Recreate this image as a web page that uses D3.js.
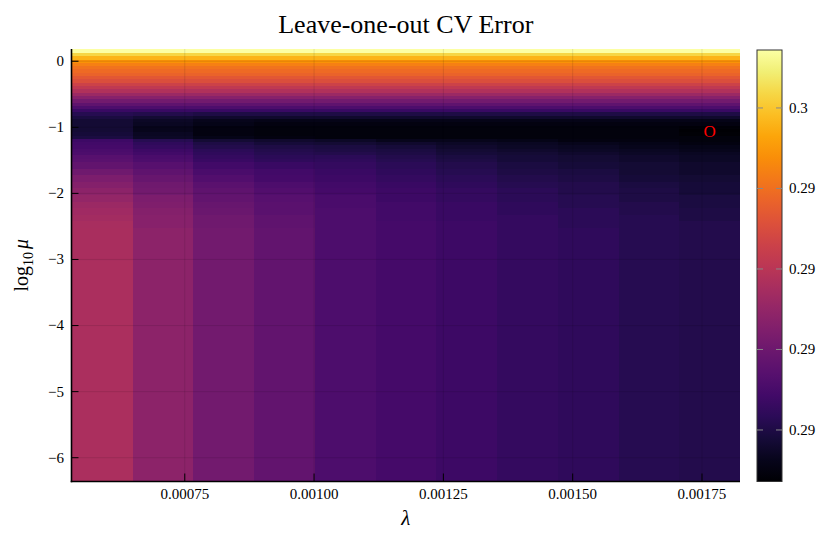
<!DOCTYPE html>
<html><head><meta charset="utf-8">
<script src="https://cdn.jsdelivr.net/npm/d3@7"></script>
<style>
body{margin:0;background:#fff;}
svg{display:block;}
text{font-family:"Liberation Serif","Times New Roman",serif;fill:#000;}
</style>
</head><body>
<svg id="chart" width="830" height="538"></svg>
<script>
// ---------------- data ----------------
const chartTitle = "Leave-one-out CV Error";
// lambda values (column centres)
const lambdas = [0.00059, 0.000708, 0.000825, 0.000943, 0.00106, 0.001178, 0.001295, 0.001413, 0.00153, 0.001648, 0.001765];
// log10(mu) row edges, top to bottom
const logMuEdges = [0.185, 0.125, 0.075, 0.025, -0.025, -0.075, -0.125, -0.175, -0.225, -0.275, -0.325,
  -0.375, -0.425, -0.475, -0.525, -0.575, -0.625, -0.675, -0.725, -0.775, -0.825, -0.875, -0.925,
  -0.975, -1.025, -1.075, -1.125, -1.175, -1.225, -1.275, -1.325, -1.375, -1.425, -1.475, -1.525,
  -1.625, -1.725, -1.825, -1.925, -2.025, -2.125, -2.225, -2.325, -2.425, -2.525,
  -3.025, -3.525, -4.025, -4.525, -5.025, -5.525, -6.025, -6.36];
// CV error, one row per log10(mu) band (top to bottom), one value per lambda
const cvError = [
  [0.29930,0.29930,0.29930,0.29930,0.29930,0.29930,0.29930,0.29930,0.29930,0.29930,0.29930],
  [0.29796,0.29796,0.29796,0.29796,0.29796,0.29796,0.29796,0.29796,0.29796,0.29796,0.29796],
  [0.29702,0.29702,0.29702,0.29702,0.29702,0.29702,0.29702,0.29702,0.29702,0.29702,0.29702],
  [0.29608,0.29608,0.29608,0.29608,0.29608,0.29608,0.29608,0.29608,0.29608,0.29608,0.29608],
  [0.29555,0.29555,0.29555,0.29555,0.29555,0.29555,0.29555,0.29555,0.29555,0.29555,0.29555],
  [0.29515,0.29515,0.29515,0.29515,0.29515,0.29515,0.29515,0.29515,0.29515,0.29515,0.29515],
  [0.29488,0.29488,0.29488,0.29488,0.29488,0.29488,0.29488,0.29488,0.29488,0.29488,0.29488],
  [0.29461,0.29461,0.29461,0.29461,0.29461,0.29461,0.29461,0.29461,0.29461,0.29461,0.29461],
  [0.29421,0.29421,0.29421,0.29421,0.29421,0.29421,0.29421,0.29421,0.29421,0.29421,0.29421],
  [0.29381,0.29381,0.29381,0.29381,0.29381,0.29381,0.29381,0.29381,0.29381,0.29381,0.29381],
  [0.29327,0.29327,0.29327,0.29327,0.29327,0.29327,0.29327,0.29327,0.29327,0.29327,0.29327],
  [0.29273,0.29273,0.29273,0.29273,0.29273,0.29273,0.29273,0.29273,0.29273,0.29273,0.29273],
  [0.29220,0.29220,0.29220,0.29220,0.29220,0.29220,0.29220,0.29220,0.29220,0.29220,0.29220],
  [0.29153,0.29153,0.29153,0.29153,0.29153,0.29153,0.29153,0.29153,0.29153,0.29153,0.29153],
  [0.29086,0.29086,0.29086,0.29086,0.29086,0.29086,0.29086,0.29086,0.29086,0.29086,0.29086],
  [0.29019,0.29019,0.29019,0.29019,0.29019,0.29019,0.29019,0.29019,0.29019,0.29019,0.29019],
  [0.28952,0.28952,0.28952,0.28952,0.28952,0.28952,0.28952,0.28952,0.28952,0.28952,0.28952],
  [0.28898,0.28898,0.28898,0.28898,0.28898,0.28898,0.28898,0.28898,0.28898,0.28898,0.28898],
  [0.28831,0.28831,0.28831,0.28831,0.28831,0.28831,0.28831,0.28831,0.28831,0.28831,0.28831],
  [0.28778,0.28764,0.28751,0.28751,0.28751,0.28751,0.28751,0.28751,0.28751,0.28751,0.28751],
  [0.28737,0.28711,0.28697,0.28697,0.28697,0.28697,0.28697,0.28697,0.28697,0.28697,0.28697],
  [0.28711,0.28684,0.28657,0.28644,0.28644,0.28644,0.28644,0.28644,0.28644,0.28644,0.28644],
  [0.28711,0.28670,0.28644,0.28630,0.28630,0.28630,0.28630,0.28630,0.28630,0.28630,0.28630],
  [0.28711,0.28657,0.28630,0.28617,0.28617,0.28617,0.28617,0.28617,0.28617,0.28617,0.28610],
  [0.28711,0.28657,0.28630,0.28617,0.28617,0.28617,0.28617,0.28617,0.28617,0.28617,0.28590],
  [0.28724,0.28670,0.28630,0.28617,0.28617,0.28617,0.28617,0.28617,0.28617,0.28617,0.28603],
  [0.28737,0.28684,0.28644,0.28630,0.28617,0.28617,0.28617,0.28617,0.28617,0.28617,0.28617],
  [0.28845,0.28778,0.28711,0.28697,0.28684,0.28657,0.28657,0.28644,0.28630,0.28630,0.28617],
  [0.28858,0.28804,0.28751,0.28724,0.28711,0.28697,0.28684,0.28670,0.28657,0.28644,0.28630],
  [0.28871,0.28818,0.28764,0.28751,0.28737,0.28724,0.28697,0.28684,0.28670,0.28657,0.28644],
  [0.28885,0.28845,0.28791,0.28764,0.28751,0.28737,0.28711,0.28697,0.28684,0.28670,0.28657],
  [0.28898,0.28858,0.28804,0.28778,0.28764,0.28751,0.28724,0.28711,0.28697,0.28684,0.28670],
  [0.28925,0.28885,0.28818,0.28791,0.28791,0.28764,0.28737,0.28724,0.28711,0.28697,0.28684],
  [0.28938,0.28898,0.28831,0.28804,0.28804,0.28778,0.28751,0.28724,0.28711,0.28697,0.28684],
  [0.28965,0.28925,0.28858,0.28831,0.28818,0.28791,0.28764,0.28737,0.28724,0.28711,0.28697],
  [0.29005,0.28952,0.28885,0.28858,0.28831,0.28804,0.28778,0.28751,0.28737,0.28711,0.28697],
  [0.29046,0.28979,0.28912,0.28871,0.28845,0.28818,0.28791,0.28764,0.28751,0.28724,0.28711],
  [0.29072,0.29005,0.28938,0.28898,0.28858,0.28831,0.28804,0.28778,0.28764,0.28737,0.28724],
  [0.29099,0.29019,0.28952,0.28912,0.28871,0.28845,0.28818,0.28791,0.28764,0.28751,0.28724],
  [0.29126,0.29046,0.28965,0.28925,0.28885,0.28845,0.28818,0.28791,0.28778,0.28751,0.28737],
  [0.29153,0.29059,0.28979,0.28938,0.28885,0.28858,0.28831,0.28804,0.28778,0.28764,0.28737],
  [0.29166,0.29072,0.28992,0.28938,0.28898,0.28858,0.28831,0.28804,0.28791,0.28764,0.28751],
  [0.29180,0.29086,0.29005,0.28952,0.28898,0.28858,0.28831,0.28818,0.28791,0.28778,0.28751],
  [0.29193,0.29086,0.29005,0.28952,0.28898,0.28871,0.28845,0.28818,0.28791,0.28778,0.28764],
  [0.29200,0.29099,0.29019,0.28965,0.28898,0.28871,0.28845,0.28818,0.28804,0.28778,0.28764],
  [0.29206,0.29099,0.29019,0.28965,0.28898,0.28871,0.28845,0.28818,0.28804,0.28778,0.28764],
  [0.29206,0.29099,0.29019,0.28965,0.28898,0.28871,0.28845,0.28818,0.28804,0.28778,0.28764],
  [0.29206,0.29099,0.29019,0.28965,0.28898,0.28871,0.28845,0.28818,0.28804,0.28778,0.28764],
  [0.29206,0.29099,0.29019,0.28965,0.28898,0.28871,0.28845,0.28818,0.28804,0.28778,0.28764],
  [0.29206,0.29099,0.29019,0.28965,0.28898,0.28871,0.28845,0.28818,0.28804,0.28778,0.28764],
  [0.29206,0.29099,0.29019,0.28965,0.28898,0.28871,0.28845,0.28818,0.28804,0.28778,0.28764],
  [0.29206,0.29099,0.29019,0.28965,0.28898,0.28871,0.28845,0.28818,0.28804,0.28778,0.28764]
];
const xTicks = [0.00075, 0.00100, 0.00125, 0.00150, 0.00175];
const xTickLabels = ["0.00075", "0.00100", "0.00125", "0.00150", "0.00175"];
const yTicks = [0, -1, -2, -3, -4, -5, -6];
const yTickLabels = ["0", "\u22121", "\u22122", "\u22123", "\u22124", "\u22125", "\u22126"];
const cbTicks = [0.2875, 0.2900, 0.2925, 0.2950, 0.2975];
const cbTickLabels = ["0.29", "0.29", "0.29", "0.29", "0.3"];
const minMarker = "O";

// ---------------- layout ----------------
const svg = d3.select("#chart");
const P = {left: 71.5, right: 740, top: 49, bottom: 481.5};
const CB = {x: 757, w: 25, top: 50, bottom: 481.5};

// column edges from centres
const xEdges = [];
lambdas.forEach((l, i) => {
  if (i === 0) xEdges.push(l - (lambdas[1] - l) / 2);
  else xEdges.push((lambdas[i - 1] + l) / 2);
});
xEdges.push(lambdas[lambdas.length - 1] + (lambdas[lambdas.length - 1] - lambdas[lambdas.length - 2]) / 2);

const x = d3.scaleLinear().domain([xEdges[0], xEdges[xEdges.length - 1]]).range([P.left, P.right]);
const y = d3.scaleLinear().domain([logMuEdges[logMuEdges.length - 1], logMuEdges[0]]).range([P.bottom, P.top]);

const allVals = cvError.flat();
const ext = d3.extent(allVals);
const color = d3.scaleSequential(d3.interpolateInferno).domain(ext);

// heatmap cells
const cells = [];
cvError.forEach((row, r) => row.forEach((v, c) => cells.push({r, c, v})));
svg.append("g").attr("shape-rendering", "crispEdges")
  .selectAll("rect").data(cells).join("rect")
  .attr("x", d => x(xEdges[d.c]))
  .attr("y", d => y(logMuEdges[d.r]))
  .attr("width", d => x(xEdges[d.c + 1]) - x(xEdges[d.c]) + 0.3)
  .attr("height", d => y(logMuEdges[d.r + 1]) - y(logMuEdges[d.r]) + 0.3)
  .attr("fill", d => color(d.v));

// grid
const grid = svg.append("g").attr("stroke", "#000").attr("stroke-opacity", 0.1).attr("stroke-width", 1);
grid.selectAll(".gx").data(xTicks).join("line")
  .attr("x1", d => x(d)).attr("x2", d => x(d)).attr("y1", P.top).attr("y2", P.bottom);
grid.selectAll(".gy").data(yTicks).join("line")
  .attr("y1", d => y(d)).attr("y2", d => y(d)).attr("x1", P.left).attr("x2", P.right);

// minimum marker
let best = cells[0];
cells.forEach(d => { if (d.v < best.v) best = d; });
svg.append("text")
  .attr("x", x(lambdas[best.c]))
  .attr("y", y((logMuEdges[best.r] + logMuEdges[best.r + 1]) / 2))
  .attr("dy", "0.36em").attr("text-anchor", "middle")
  .style("fill", "#ff0000").style("font-size", "17px")
  .text(minMarker);

// axes spines
svg.append("line").attr("x1", P.left).attr("x2", P.left).attr("y1", P.top).attr("y2", P.bottom + 0.8)
  .attr("stroke", "#000").attr("stroke-width", 1.6);
svg.append("line").attr("x1", P.left - 0.8).attr("x2", P.right).attr("y1", P.bottom).attr("y2", P.bottom)
  .attr("stroke", "#000").attr("stroke-width", 1.6);

// ticks
const tk = svg.append("g").attr("stroke", "#000").attr("stroke-width", 1);
tk.selectAll(".tx").data(xTicks).join("line")
  .attr("x1", d => x(d)).attr("x2", d => x(d)).attr("y1", P.bottom).attr("y2", P.bottom - 8);
tk.selectAll(".ty").data(yTicks).join("line")
  .attr("y1", d => y(d)).attr("y2", d => y(d)).attr("x1", P.left).attr("x2", P.left + 7);

// tick labels
svg.append("g").selectAll("text").data(xTicks).join("text")
  .attr("x", d => x(d)).attr("y", 498.5).attr("text-anchor", "middle")
  .style("font-size", "15px").text((d, i) => xTickLabels[i]);
svg.append("g").selectAll("text").data(yTicks).join("text")
  .attr("x", 64).attr("y", d => y(d)).attr("dy", "0.33em").attr("text-anchor", "end")
  .style("font-size", "15px").text((d, i) => yTickLabels[i]);

// axis labels
svg.append("text").attr("x", (P.left + P.right) / 2).attr("y", 525).attr("text-anchor", "middle")
  .style("font-size", "21px").style("font-style", "italic").text("\u03bb");
const yl = svg.append("text").attr("transform", `translate(28,${(P.top + P.bottom) / 2}) rotate(-90)`)
  .attr("text-anchor", "middle").style("font-size", "20px");
yl.append("tspan").text("log");
yl.append("tspan").attr("dy", 5).style("font-size", "14px").text("10");
yl.append("tspan").attr("dy", -5).attr("dx", 3).style("font-style", "italic").text("\u03bc");

// title
svg.append("text").attr("x", (P.left + P.right) / 2).attr("y", 33).attr("text-anchor", "middle")
  .style("font-size", "26px").text(chartTitle);

// colorbar
const defs = svg.append("defs");
const grad = defs.append("linearGradient").attr("id", "cbgrad")
  .attr("x1", 0).attr("y1", 1).attr("x2", 0).attr("y2", 0);
d3.range(0, 1.0001, 0.05).forEach(t => {
  grad.append("stop").attr("offset", t).attr("stop-color", d3.interpolateInferno(t));
});
const cbScale = d3.scaleLinear().domain(ext).range([CB.bottom, CB.top]);
svg.append("rect").attr("x", CB.x).attr("y", CB.top).attr("width", CB.w).attr("height", CB.bottom - CB.top)
  .attr("fill", "url(#cbgrad)").attr("stroke", "#333").attr("stroke-width", 1);
const cbt = svg.append("g").attr("stroke", "#888").attr("stroke-width", 1);
cbt.selectAll(".l").data(cbTicks).join("line")
  .attr("x1", CB.x).attr("x2", CB.x + 6).attr("y1", d => cbScale(d)).attr("y2", d => cbScale(d));
cbt.selectAll(".r").data(cbTicks).join("line")
  .attr("x1", CB.x + CB.w - 6).attr("x2", CB.x + CB.w).attr("y1", d => cbScale(d)).attr("y2", d => cbScale(d));
svg.append("g").selectAll("text").data(cbTicks).join("text")
  .attr("x", 789).attr("y", d => cbScale(d)).attr("dy", "0.33em")
  .style("font-size", "15px").text((d, i) => cbTickLabels[i]);
</script>
</body></html>
